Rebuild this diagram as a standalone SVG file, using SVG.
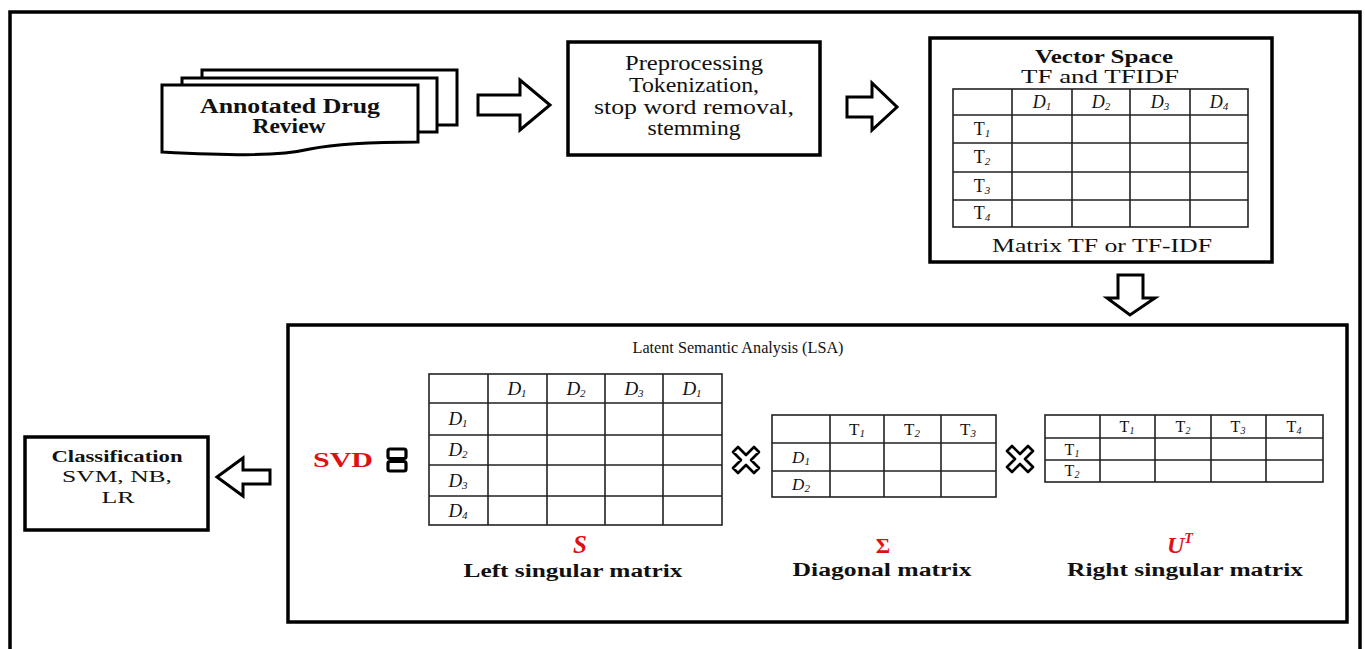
<svg xmlns="http://www.w3.org/2000/svg" width="1365" height="649" viewBox="0 0 1365 649">
<style>
text{font-family:"Liberation Serif","Times New Roman",serif;fill:#111}
.b{font-weight:bold}
.i{font-style:italic}
.red{fill:#e01010}
.box{fill:#fff;stroke:#000;stroke-width:3.5}
.doc{fill:#fff;stroke:#000;stroke-width:3}
.arr{fill:#fff;stroke:#000;stroke-width:3;stroke-linejoin:miter}
.grid{fill:none;stroke:#222;stroke-width:1.6}
.x{fill:#fff;stroke:#000;stroke-width:2.6;stroke-linejoin:round}
.c{text-anchor:middle}
</style>
<rect width="1365" height="649" fill="#fff"/>
<path d="M10,649 V12 H1360 V649" fill="none" stroke="#000" stroke-width="3.5"/>

<g id="annotated-drug-review">
<rect class="doc" x="202" y="70" width="255" height="55"/>
<rect class="doc" x="182" y="78" width="255" height="54"/>
<path class="doc" d="M162,85 H418 V142 C380,142 340,143 310,149 C280,156 240,156 162,152 Z"/>
<text class="b c" x="290" y="113" font-size="20" textLength="180" lengthAdjust="spacingAndGlyphs">Annotated Drug</text>
<text class="b c" x="289" y="133" font-size="20" textLength="73" lengthAdjust="spacingAndGlyphs">Review</text>
</g>

<g id="preprocessing">
<rect class="box" x="568" y="42" width="252" height="113"/>
<text class="c" x="694" y="70" font-size="20" textLength="138" lengthAdjust="spacingAndGlyphs">Preprocessing</text>
<text class="c" x="694" y="92" font-size="20" textLength="130" lengthAdjust="spacingAndGlyphs">Tokenization,</text>
<text class="c" x="694" y="114" font-size="20" textLength="200" lengthAdjust="spacingAndGlyphs">stop word removal,</text>
<text class="c" x="694" y="135" font-size="20" textLength="93" lengthAdjust="spacingAndGlyphs">stemming</text>
</g>

<g id="vector-space">
<rect class="box" x="930" y="38" width="342" height="224"/>
<text class="b c" x="1104" y="63" font-size="19" textLength="138" lengthAdjust="spacingAndGlyphs">Vector Space</text>
<text class="c" x="1100" y="83" font-size="19" textLength="158" lengthAdjust="spacingAndGlyphs">TF and TFIDF</text>
<g class="grid">
<rect x="953" y="89" width="295" height="138"/>
<path d="M953,115H1248M953,143H1248M953,172H1248M953,200H1248M1012,89V227M1072,89V227M1130,89V227M1190,89V227"/>
</g>
<g font-size="18">
<text class="i c" x="1042" y="108">D<tspan font-size="11" dy="2">1</tspan></text>
<text class="i c" x="1101" y="108">D<tspan font-size="11" dy="2">2</tspan></text>
<text class="i c" x="1160" y="108">D<tspan font-size="11" dy="2">3</tspan></text>
<text class="i c" x="1219" y="108">D<tspan font-size="11" dy="2">4</tspan></text>
<text class="c" x="982" y="135">T<tspan class="i" font-size="11" dy="2">1</tspan></text>
<text class="c" x="982" y="163">T<tspan class="i" font-size="11" dy="2">2</tspan></text>
<text class="c" x="982" y="192">T<tspan class="i" font-size="11" dy="2">3</tspan></text>
<text class="c" x="982" y="219">T<tspan class="i" font-size="11" dy="2">4</tspan></text>
</g>
<text class="c" x="1102" y="252" font-size="19" textLength="220" lengthAdjust="spacingAndGlyphs">Matrix TF or TF-IDF</text>
</g>

<g id="lsa">
<rect class="box" x="288" y="325" width="1059" height="297"/>
<text class="c" x="738" y="353" font-size="17" textLength="211" lengthAdjust="spacingAndGlyphs">Latent Semantic Analysis (LSA)</text>
<text class="b red" x="313" y="467" font-size="20" textLength="60" lengthAdjust="spacingAndGlyphs">SVD</text>
<g fill="none" stroke="#000" stroke-width="3.2">
<rect x="388" y="449" width="18" height="9.5" rx="2"/>
<rect x="388" y="461.5" width="18" height="9.5" rx="2"/>
</g>

<g id="left-matrix">
<g class="grid">
<rect x="429" y="374" width="293" height="151"/>
<path d="M429,403H722M429,435H722M429,465H722M429,496H722M488,374V525M547,374V525M605,374V525M663,374V525"/>
</g>
<g font-size="19">
<text class="i c" x="517" y="395">D<tspan font-size="11" dy="2">1</tspan></text>
<text class="i c" x="576" y="395">D<tspan font-size="11" dy="2">2</tspan></text>
<text class="i c" x="634" y="395">D<tspan font-size="11" dy="2">3</tspan></text>
<text class="i c" x="692" y="395">D<tspan font-size="11" dy="2">1</tspan></text>
<text class="i c" x="458" y="425">D<tspan font-size="11" dy="2">1</tspan></text>
<text class="i c" x="458" y="456">D<tspan font-size="11" dy="2">2</tspan></text>
<text class="i c" x="458" y="487">D<tspan font-size="11" dy="2">3</tspan></text>
<text class="i c" x="458" y="517">D<tspan font-size="11" dy="2">4</tspan></text>
</g>
<text class="b i red c" x="580" y="553" font-size="25">S</text>
<text class="b c" x="573" y="577" font-size="18" textLength="219" lengthAdjust="spacingAndGlyphs">Left singular matrix</text>
</g>

<path class="x" transform="translate(746,460)" d="M-13,-8 L-8,-13 L0,-5 L8,-13 L13,-8 L5,0 L13,8 L8,13 L0,5 L-8,13 L-13,8 L-5,0 Z"/>

<g id="diagonal-matrix">
<g class="grid">
<rect x="772" y="415" width="224" height="82"/>
<path d="M772,443H996M772,471H996M830,415V497M884,415V497M941,415V497"/>
</g>
<g font-size="17">
<text class="c" x="857" y="435">T<tspan class="i" font-size="11" dy="2">1</tspan></text>
<text class="c" x="912" y="435">T<tspan class="i" font-size="11" dy="2">2</tspan></text>
<text class="c" x="968" y="435">T<tspan class="i" font-size="11" dy="2">3</tspan></text>
<text class="i c" x="801" y="463">D<tspan font-size="11" dy="2">1</tspan></text>
<text class="i c" x="801" y="490">D<tspan font-size="11" dy="2">2</tspan></text>
</g>
<text class="b red c" x="883" y="553" font-size="22">Σ</text>
<text class="b c" x="882" y="576" font-size="18" textLength="179" lengthAdjust="spacingAndGlyphs">Diagonal matrix</text>
</g>

<path class="x" transform="translate(1020,459)" d="M-13,-8 L-8,-13 L0,-5 L8,-13 L13,-8 L5,0 L13,8 L8,13 L0,5 L-8,13 L-13,8 L-5,0 Z"/>

<g id="right-matrix">
<g class="grid">
<rect x="1045" y="415" width="278" height="67"/>
<path d="M1045,438H1323M1045,460H1323M1100,415V482M1155,415V482M1211,415V482M1266,415V482"/>
</g>
<g font-size="16">
<text class="c" x="1127" y="432">T<tspan class="i" font-size="10" dy="2">1</tspan></text>
<text class="c" x="1183" y="432">T<tspan class="i" font-size="10" dy="2">2</tspan></text>
<text class="c" x="1238" y="432">T<tspan class="i" font-size="10" dy="2">3</tspan></text>
<text class="c" x="1294" y="432">T<tspan class="i" font-size="10" dy="2">4</tspan></text>
<text class="c" x="1072" y="455">T<tspan class="i" font-size="10" dy="2">1</tspan></text>
<text class="c" x="1072" y="476">T<tspan class="i" font-size="10" dy="2">2</tspan></text>
</g>
<text class="b i red" x="1167" y="553" font-size="24">U<tspan font-size="14" dy="-10">T</tspan></text>
<text class="b c" x="1185" y="576" font-size="18" textLength="236" lengthAdjust="spacingAndGlyphs">Right singular matrix</text>
</g>
</g>

<g id="classification">
<rect class="box" x="25" y="437" width="183" height="93"/>
<text class="b c" x="117" y="462" font-size="16" textLength="131" lengthAdjust="spacingAndGlyphs">Classification</text>
<text class="c" x="117" y="482" font-size="17" textLength="110" lengthAdjust="spacingAndGlyphs">SVM, NB,</text>
<text class="c" x="118" y="503" font-size="17" textLength="33" lengthAdjust="spacingAndGlyphs">LR</text>
</g>

<g id="connectors">
<polygon class="arr" points="478,95 520,95 520,80 550,105 520,130 520,115 478,115"/>
<polygon class="arr" points="847,97 872,97 872,83 897,107 872,130 872,117 847,117"/>
<polygon class="arr" points="1118,275 1143,275 1143,298 1155,298 1130,315 1107,298 1118,298"/>
<polygon class="arr" points="217,477 243,458 243,470 270,470 270,484 243,484 243,496"/>
</g>
</svg>
